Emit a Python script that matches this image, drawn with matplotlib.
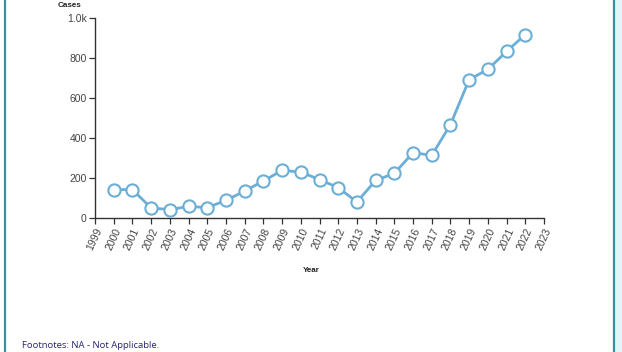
import matplotlib
matplotlib.use("Agg")
import matplotlib.pyplot as plt
from matplotlib.lines import Line2D
from matplotlib.patches import Rectangle

years = [2000, 2001, 2002, 2003, 2004, 2005, 2006, 2007, 2008, 2009, 2010, 2011,
         2012, 2013, 2014, 2015, 2016, 2017, 2018, 2019, 2020, 2021, 2022]
cases = [142, 142, 50, 42, 58, 52, 88, 135, 185, 238, 230, 192,
         152, 80, 188, 223, 327, 313, 467, 692, 743, 833, 917]
xtick_years = list(range(1999, 2024))
ytick_vals = [0, 200, 400, 600, 800, 1000]
ytick_labels = ["0", "200", "400", "600", "800", "1.0k"]

plt.rcParams["font.family"] = ["Liberation Sans", "DejaVu Sans"]

W, H = 622, 352
fig = plt.figure(figsize=(W / 100, H / 100), dpi=100)
fig.patch.set_facecolor("white")

ax = fig.add_axes([95 / W, 1 - 218 / H, (544 - 95) / W, 200 / H])
line_color = "#6baed6"
ax.plot(years, cases, color=line_color, lw=2.0, marker="o", ms=8.8,
        mfc="white", mec=line_color, mew=1.5, zorder=3)

ax.set_xlim(1999, 2023)
ax.set_ylim(0, 1000)
ax.set_xticks(xtick_years)
ax.set_xticklabels([str(y) for y in xtick_years], rotation=65, ha="right",
                   rotation_mode="anchor", fontsize=7.5, color="#444444")
ax.set_yticks(ytick_vals)
ax.set_yticklabels(ytick_labels, fontsize=7.5, color="#444444")
for s in ["top", "right"]:
    ax.spines[s].set_visible(False)
for s in ["left", "bottom"]:
    ax.spines[s].set_color("#333333")
    ax.spines[s].set_linewidth(1.0)
ax.tick_params(axis="both", length=4, width=0.9, color="#333333", pad=2)
ax.set_facecolor("none")

fig.text(311 / W, 1 - 271 / H, "Year", fontsize=5.8, fontweight="bold",
         ha="center", va="center", color="#222222")
fig.text(58 / W, 1 - 2 / H, "Cases", fontsize=5.8, fontweight="bold",
         ha="left", va="top", color="#222222")
fig.text(22 / W, 1 - 346 / H, "Footnotes: NA - Not Applicable.", fontsize=6.8,
         ha="left", va="center", color="#262673", family="Open Sans")

# frame
fig.add_artist(Rectangle((615 / W, 0), 7 / W, 1, transform=fig.transFigure,
                         color="#e3f6f7", lw=0))
for xp in (4.5, 614):
    fig.add_artist(Line2D([xp / W, xp / W], [0, 1], transform=fig.transFigure,
                          color="#3f8e9c", lw=1.6))

fig.savefig("out.png", dpi=100)
